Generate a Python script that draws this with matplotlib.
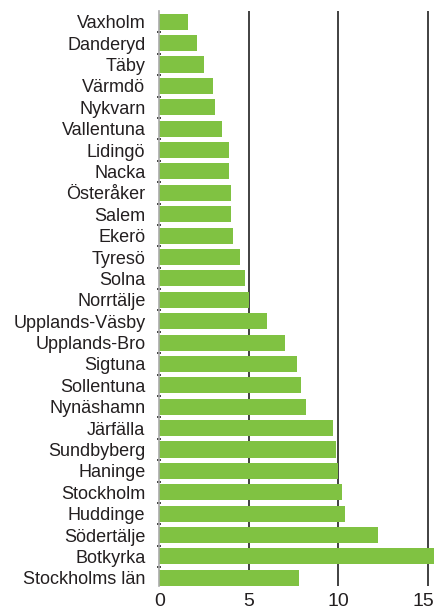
import numpy as np
import matplotlib
matplotlib.use("Agg")
import matplotlib.pyplot as plt
import matplotlib.transforms as mtrans

# kommuner, top to bottom as in the chart
kommuner = ["Vaxholm", "Danderyd", "Täby", "Värmdö", "Nykvarn", "Vallentuna",
            "Lidingö", "Nacka", "Österåker", "Salem", "Ekerö", "Tyresö", "Solna",
            "Norrtälje", "Upplands-Väsby", "Upplands-Bro", "Sigtuna", "Sollentuna",
            "Nynäshamn", "Järfälla", "Sundbyberg", "Haninge", "Stockholm",
            "Huddinge", "Södertälje", "Botkyrka", "Stockholms län"]
values = [1.6, 2.1, 2.5, 3.0, 3.1, 3.5,
          3.9, 3.9, 4.0, 4.0, 4.1, 4.5, 4.8,
          5.0, 6.0, 7.0, 7.7, 7.9,
          8.2, 9.7, 9.9, 10.0, 10.2,
          10.4, 12.2, 15.4, 7.8]
xticks = [0, 5, 10, 15]

plt.rcParams['font.family'] = ['Liberation Sans', 'DejaVu Sans']

fig = plt.figure(figsize=(4.34, 6.12), dpi=100)
ax = fig.add_axes([0.367, 0.0425, 0.633, 0.9395])

pos = np.arange(len(kommuner))
ax.barh(pos, values, height=0.75, color='#80c242', zorder=2)

for x in xticks[1:]:
    ax.axvline(x, color='#333333', lw=1.3, zorder=1)

ax.set_xlim(0, 15.35)
ax.set_ylim(len(kommuner) - 0.62, -0.5)

ax.set_yticks(pos)
ax.set_yticklabels(kommuner)
ax.set_xticks(xticks)
ax.set_xticklabels([str(x) for x in xticks])
ax.set_yticks(pos[:-1] + 0.5, minor=True)

ax.tick_params(axis='y', which='major', length=0, pad=10, labelsize=13, labelcolor='#231f20')
ax.tick_params(axis='y', which='minor', length=3, width=1.2, color='#222222', direction='inout')
ax.tick_params(axis='x', length=0, pad=5, labelsize=14, labelcolor='#231f20')

# nudge the "15" so it fits inside the picture
lab15 = ax.get_xticklabels()[-1]
lab15.set_transform(lab15.get_transform() + mtrans.ScaledTranslation(-4/100, 0, fig.dpi_scale_trans))

for s in ['top', 'right', 'bottom']:
    ax.spines[s].set_visible(False)
ax.spines['left'].set_color('#aaaaaa')
ax.spines['left'].set_linewidth(1.2)
ax.spines['left'].set_zorder(3)

fig.savefig("out.png", dpi=100)
